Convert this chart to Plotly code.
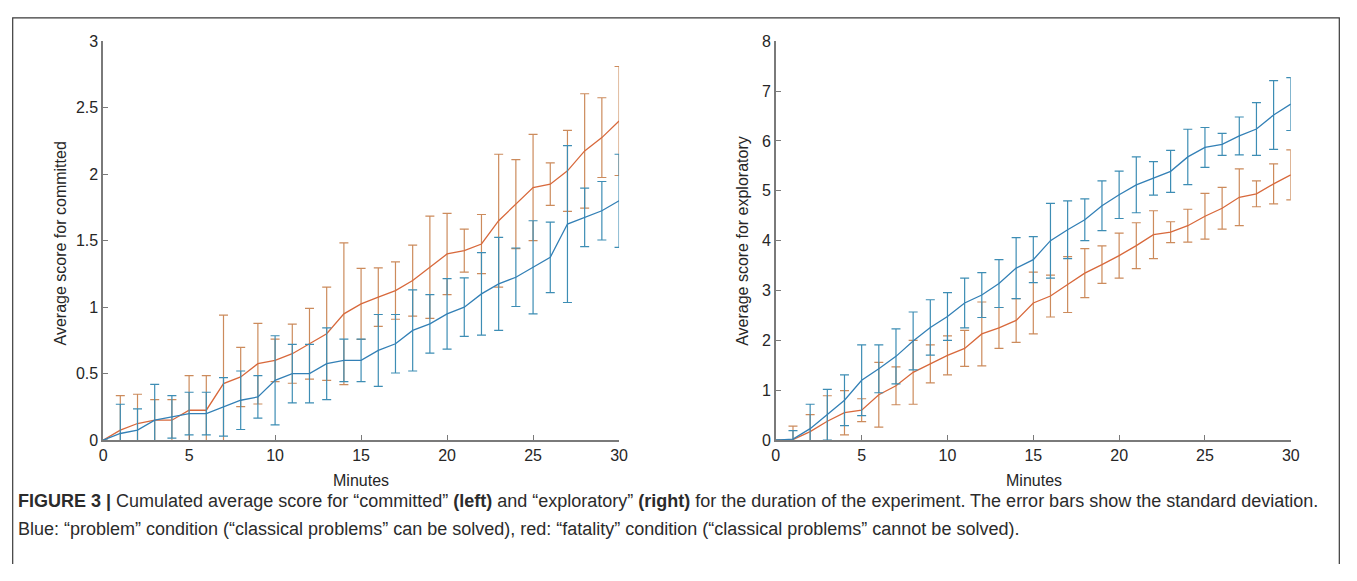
import plotly.graph_objects as go

# The page body has an 8px default margin; keep the figure inside the viewport.
OFF = 8
W, H = 1357 - 2 * OFF, 581 - 2 * OFF

minutes = list(range(0, 31))

committed_problem = [0, 0.05, 0.075, 0.15, 0.175, 0.2, 0.2, 0.25, 0.3, 0.325, 0.45,
                     0.5, 0.5, 0.575, 0.6, 0.6, 0.675, 0.725, 0.825, 0.875, 0.95,
                     1.0, 1.1, 1.175, 1.225, 1.3, 1.375, 1.625, 1.675, 1.725, 1.8]
committed_problem_sd = [0, 0.22, 0.16, 0.27, 0.16, 0.16, 0.16, 0.22, 0.22, 0.16, 0.335,
                        0.22, 0.22, 0.27, 0.16, 0.16, 0.27, 0.22, 0.305, 0.22, 0.265,
                        0.22, 0.31, 0.35, 0.22, 0.35, 0.265, 0.59, 0.22, 0.22, 0.35]
committed_fatality = [0, 0.075, 0.125, 0.15, 0.15, 0.225, 0.225, 0.425, 0.475, 0.575, 0.6,
                      0.65, 0.725, 0.8, 0.95, 1.025, 1.075, 1.125, 1.2, 1.3, 1.4,
                      1.425, 1.475, 1.65, 1.775, 1.9, 1.925, 2.025, 2.175, 2.275, 2.4]
committed_fatality_sd = [0, 0.26, 0.22, 0.155, 0.155, 0.26, 0.26, 0.515, 0.223, 0.303, 0.16,
                         0.222, 0.266, 0.35, 0.533, 0.267, 0.22, 0.216, 0.267, 0.385, 0.305,
                         0.162, 0.222, 0.5, 0.335, 0.4, 0.16, 0.305, 0.43, 0.3, 0.41]

exploratory_problem = [0, 0.02, 0.23, 0.51, 0.8, 1.2, 1.43, 1.68, 1.99, 2.26, 2.48,
                       2.75, 2.91, 3.14, 3.45, 3.62, 4.0, 4.22, 4.42, 4.7, 4.92,
                       5.12, 5.25, 5.39, 5.68, 5.87, 5.93, 6.1, 6.24, 6.52, 6.74]
exploratory_problem_sd = [0, 0.17, 0.49, 0.51, 0.51, 0.71, 0.48, 0.55, 0.58, 0.555, 0.48,
                          0.5, 0.45, 0.48, 0.61, 0.46, 0.75, 0.58, 0.42, 0.5, 0.475,
                          0.56, 0.335, 0.42, 0.555, 0.4, 0.22, 0.38, 0.53, 0.69, 0.53]
exploratory_fatality = [0, 0.01, 0.17, 0.38, 0.55, 0.6, 0.91, 1.09, 1.36, 1.53, 1.7,
                        1.84, 2.13, 2.25, 2.4, 2.75, 2.89, 3.12, 3.35, 3.52, 3.7,
                        3.9, 4.12, 4.17, 4.3, 4.49, 4.65, 4.87, 4.94, 5.14, 5.32]
exploratory_fatality_sd = [0, 0.27, 0.34, 0.51, 0.445, 0.23, 0.65, 0.38, 0.64, 0.38, 0.39,
                           0.36, 0.64, 0.41, 0.44, 0.62, 0.42, 0.56, 0.49, 0.375, 0.45,
                           0.46, 0.48, 0.21, 0.33, 0.46, 0.42, 0.57, 0.26, 0.4, 0.5]

x_ticks = [0, 5, 10, 15, 20, 25, 30]
left_y_ticks = [0, 0.5, 1, 1.5, 2, 2.5, 3]
left_y_labels = ["0", "0.5", "1", "1.5", "2", "2.5", "3"]
right_y_ticks = [0, 1, 2, 3, 4, 5, 6, 7, 8]

BLUE_LINE = "#3380b6"
BLUE_BAR = "#3d8db4"
RED_LINE = "#d8693c"
RED_BAR = "#cc8b5c"
AXIS = "#7a7a7a"
TEXT = "#262626"
FONT = "Liberation Sans, Arial, sans-serif"


def px_x(p):
    return (p - OFF) / W


def px_y(p):
    return 1 - (p - OFF) / H


fig = go.Figure()


def add_series(y, sd, line_color, bar_color, xa, ya):
    fig.add_trace(go.Scatter(
        x=minutes, y=y, mode="lines",
        line=dict(color=line_color, width=1.3),
        error_y=dict(type="data", array=sd, visible=True, color=bar_color,
                     thickness=1.2, width=4.5),
        xaxis=xa, yaxis=ya, showlegend=False, hoverinfo="skip",
    ))


add_series(committed_fatality, committed_fatality_sd, RED_LINE, RED_BAR, "x", "y")
add_series(committed_problem, committed_problem_sd, BLUE_LINE, BLUE_BAR, "x", "y")
add_series(exploratory_fatality, exploratory_fatality_sd, RED_LINE, RED_BAR, "x2", "y2")
add_series(exploratory_problem, exploratory_problem_sd, BLUE_LINE, BLUE_BAR, "x2", "y2")

y_dom = [px_y(445.3), px_y(34)]

axis_common = dict(
    showline=True, linecolor=AXIS, linewidth=1.5, mirror=False,
    ticks="inside", ticklen=5, tickwidth=1.2, tickcolor=AXIS,
    showgrid=False, zeroline=False,
    tickfont=dict(family=FONT, size=16, color=TEXT),
    fixedrange=True,
)

fig.update_layout(
    width=W, height=H,
    margin=dict(l=0, r=0, t=0, b=0),
    paper_bgcolor="white", plot_bgcolor="white",
    xaxis=dict(domain=[px_x(100), px_x(621)], range=[0, 30], tickvals=x_ticks,
               anchor="y", **axis_common),
    yaxis=dict(domain=y_dom, range=[0, 3], tickvals=left_y_ticks, ticktext=left_y_labels,
               anchor="x", **axis_common),
    xaxis2=dict(domain=[px_x(779.3), px_x(1299.3)], range=[0, 30], tickvals=x_ticks,
                anchor="y2", **axis_common),
    yaxis2=dict(domain=y_dom, range=[0, 8], tickvals=right_y_ticks,
                anchor="x2", **axis_common),
    showlegend=False,
)

annots = [
    dict(text="Average score for committed", x=px_x(57), y=px_y(243), textangle=-90),
    dict(text="Average score for exploratory", x=px_x(745), y=px_y(240), textangle=-90),
    dict(text="Minutes", x=px_x(360), y=px_y(487)),
    dict(text="Minutes", x=px_x(1040), y=px_y(487)),
]
for a in annots:
    fig.add_annotation(xref="paper", yref="paper", showarrow=False,
                       xanchor="center", yanchor="middle",
                       font=dict(family=FONT, size=16, color=TEXT), **a)

caption1 = ("<b>FIGURE 3 |</b> Cumulated average score for “committed” <b>(left)</b> and "
            "“exploratory” <b>(right)</b> for the duration of the experiment. "
            "The error bars show the standard deviation.")
caption2 = ("Blue: “problem” condition (“classical problems” can be solved), red: "
            "“fatality” condition (“classical problems” cannot be solved).")
for txt, yy in [(caption1, 508), (caption2, 537)]:
    fig.add_annotation(xref="paper", yref="paper", showarrow=False,
                       xanchor="left", yanchor="middle", x=px_x(12), y=px_y(yy),
                       text=txt, font=dict(family=FONT, size=18, color="#2b2b2b"))

# open-bottom frame (left, top, right edges)
fx0, fx1, fy_top, fy_bot = px_x(8.7), px_x(1348.3), px_y(10), 0
fig.add_shape(type="path", xref="paper", yref="paper",
              path=f"M {fx0} {fy_bot} L {fx0} {fy_top} L {fx1} {fy_top} L {fx1} {fy_bot}",
              line=dict(color="#3a3a3a", width=1.2), layer="below")

fig.write_html("out.html")
